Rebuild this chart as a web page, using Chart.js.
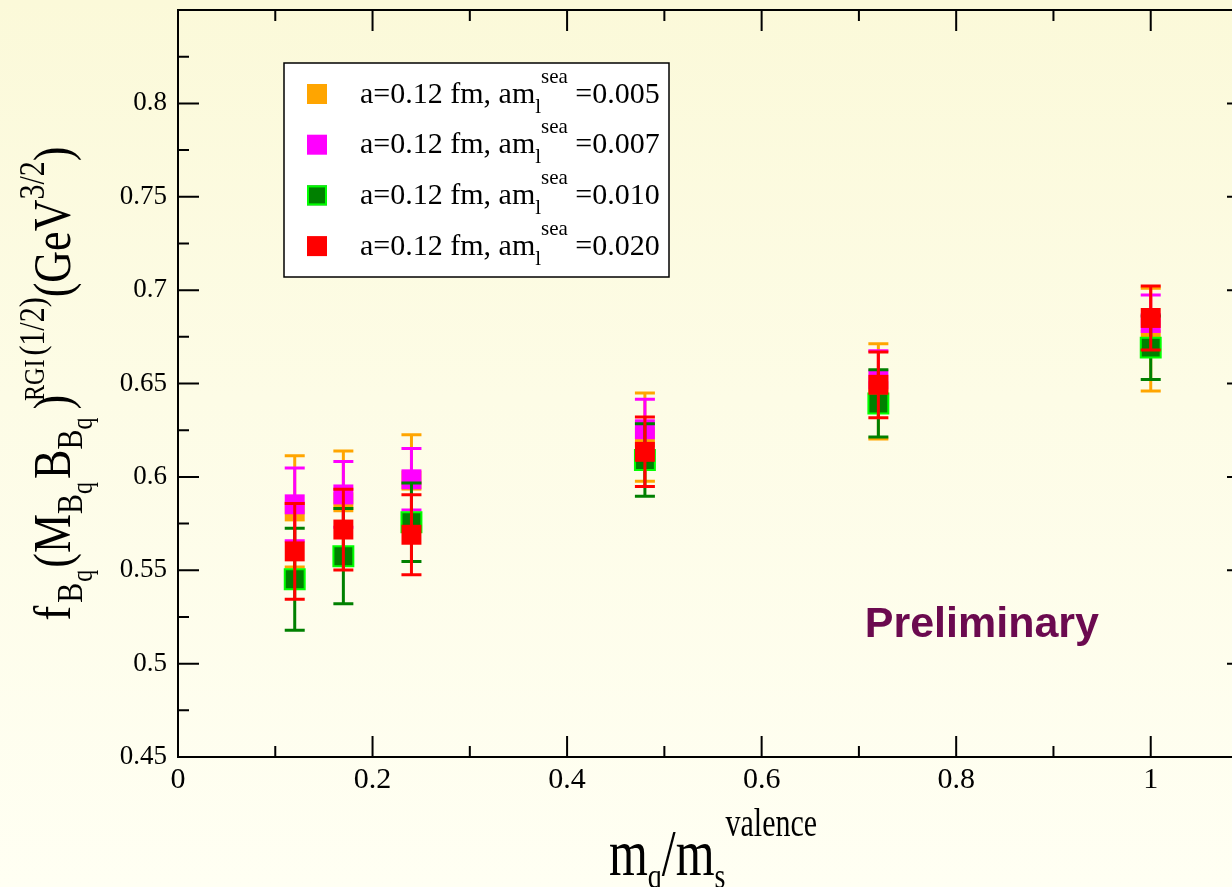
<!DOCTYPE html>
<html>
<head>
<meta charset="utf-8">
<script src="https://cdn.jsdelivr.net/npm/chart.js@4.4.1/dist/chart.umd.min.js"></script>
<style>
    html, body {
        margin: 0;
        padding: 0;
        width: 1232px;
        height: 887px;
        overflow: hidden;
        background: linear-gradient(to bottom, #fbf9d9 0%, #fdfce6 45%, #fffff3 100%);
    }
    #wrap { position: absolute; left: 0; top: 0; width: 1260px; height: 887px; }
</style>
</head>
<body>
<div id="wrap"><canvas id="chart" width="1260" height="887"></canvas></div>
<script>
// ==================== DONNÉES ====================
const mqOverMs = [0.12, 0.17, 0.24, 0.48, 0.72, 1.0];

const fb005 = [0.5815, 0.5864, 0.5980, 0.6213, 0.6458, 0.6735];
const err005 = [0.0298, 0.0275, 0.0246, 0.0236, 0.0255, 0.0275];
const fb007 = [0.5853, 0.5906, 0.5987, 0.6255, 0.6522, 0.6824];
const err007 = [0.0195, 0.0176, 0.0165, 0.0160, 0.0154, 0.0150];
const fb010 = [0.5452, 0.5575, 0.5757, 0.6090, 0.6393, 0.6692];
const err010 = [0.0273, 0.0255, 0.0210, 0.0194, 0.0180, 0.0170];
const fb020 = [0.5601, 0.5718, 0.5690, 0.6134, 0.6493, 0.6851];
const err020 = [0.0256, 0.0216, 0.0214, 0.0186, 0.0176, 0.0171];

const seaMasses = ["0.005", "0.007", "0.010", "0.020"];

const xMajorTicks = [0, 0.2, 0.4, 0.6, 0.8, 1.0];
const xTickLabels = ["0", "0.2", "0.4", "0.6", "0.8", "1"];
const xMinorTicks = [0.1, 0.3, 0.5, 0.7, 0.9];
const yMajorTicks = [0.45, 0.5, 0.55, 0.6, 0.65, 0.7, 0.75, 0.8];
const yTickLabels = ["0.45", "0.5", "0.55", "0.6", "0.65", "0.7", "0.75", "0.8"];
const yMinorTicks = [0.475, 0.525, 0.575, 0.625, 0.675, 0.725, 0.775, 0.825];

const fills = ["#ffa500", "#ff00ff", "#008000", "#ff0000"];
const edges = ["#ffa500", "#ff00ff", "#00ff00", "#ff0000"];
const barColors = ["#ffa500", "#ff00ff", "#008000", "#ff0000"];

const SERIF = "'Liberation Serif', 'Times New Roman', serif";

// ==================== TEXTE AVEC INDICES / EXPOSANTS ====================
function measureRich(ctx, segs) {
    let w = 0;
    segs.forEach(sg => {
        ctx.font = sg.s + "px " + SERIF;
        w += (sg.gap || 0) + ctx.measureText(sg.t).width;
    });
    return w;
}

function drawRich(ctx, segs, x, y) {
    let cx = x;
    ctx.textBaseline = "alphabetic";
    ctx.textAlign = "left";
    segs.forEach(sg => {
        ctx.font = sg.s + "px " + SERIF;
        cx += sg.gap || 0;
        ctx.fillText(sg.t, cx, y + (sg.d || 0));
        cx += ctx.measureText(sg.t).width;
    });
    return cx - x;
}

const yTitle = [
    { t: "f", s: 44, d: 0 },
    { t: "B", s: 30, d: 10, gap: 3 },
    { t: "q", s: 24, d: 18, gap: 1 },
    { t: "(M", s: 44, d: 0, gap: 2 },
    { t: "B", s: 30, d: 10 },
    { t: "q", s: 24, d: 18 },
    { t: "B", s: 44, d: 0, gap: 3 },
    { t: "B", s: 30, d: 10 },
    { t: "q", s: 24, d: 18 },
    { t: ")", s: 44, d: 0, gap: 8 },
    { t: "RGI", s: 24, d: -22, gap: -6 },
    { t: "(1/2)", s: 30, d: -22, gap: 4 },
    { t: "(GeV", s: 44, d: 0 },
    { t: "3/2", s: 30, d: -22 },
    { t: ")", s: 44, d: 0 }
];

const xTitle = [
    { t: "m", s: 50, d: 0 },
    { t: "q", s: 28, d: 10 },
    { t: "/m", s: 50, d: 0 },
    { t: "s", s: 28, d: 10 },
    { t: "valence", s: 30, d: -30 }
];

function isMajor(list, v) {
    return list.some(m => Math.abs(m - v) < 1e-6);
}

// ==================== PLUGINS ====================
const frameTicks = {
    id: "frameTicks",
    beforeDatasetsDraw(chart) {
        const ctx = chart.ctx;
        const a = chart.chartArea;
        const xs = chart.scales.x;
        const ys = chart.scales.y;
        ctx.save();
        ctx.strokeStyle = "#000";
        ctx.lineWidth = 2;
        ctx.strokeRect(a.left, a.top, a.right - a.left, a.bottom - a.top);
        ctx.beginPath();
        xs.ticks.forEach(t => {
            const px = xs.getPixelForValue(t.value);
            const len = isMajor(xMajorTicks, t.value) ? 21 : 11;
            ctx.moveTo(px, a.bottom);
            ctx.lineTo(px, a.bottom - len);
            ctx.moveTo(px, a.top);
            ctx.lineTo(px, a.top + len);
        });
        ys.ticks.forEach(t => {
            const py = ys.getPixelForValue(t.value);
            const len = isMajor(yMajorTicks, t.value) ? 21 : 11;
            ctx.moveTo(a.left, py);
            ctx.lineTo(a.left + len, py);
            ctx.moveTo(a.right, py);
            ctx.lineTo(a.right - len, py);
        });
        ctx.stroke();

        // Étiquettes des graduations
        ctx.fillStyle = "#000";
        ctx.font = "27px " + SERIF;
        ctx.textAlign = "right";
        ctx.textBaseline = "middle";
        yMajorTicks.forEach((v, i) => {
            ctx.fillText(yTickLabels[i], a.left - 11, ys.getPixelForValue(v));
        });
        ctx.font = "30px " + SERIF;
        ctx.textAlign = "center";
        ctx.textBaseline = "alphabetic";
        xMajorTicks.forEach((v, i) => {
            ctx.fillText(xTickLabels[i], xs.getPixelForValue(v), a.bottom + 31);
        });
        ctx.restore();
    }
};

const errorBars = {
    id: "errorBars",
    beforeDatasetDraw(chart, args) {
        const ds = chart.data.datasets[args.index];
        const xs = chart.scales.x;
        const ys = chart.scales.y;
        const ctx = chart.ctx;
        ctx.save();
        ctx.strokeStyle = ds.barColor;
        ctx.lineWidth = 3;
        ds.data.forEach(p => {
            const px = xs.getPixelForValue(p.x);
            const top = ys.getPixelForValue(p.y + p.err);
            const bot = ys.getPixelForValue(p.y - p.err);
            ctx.beginPath();
            ctx.moveTo(px, top);
            ctx.lineTo(px, bot);
            ctx.moveTo(px - 10, top);
            ctx.lineTo(px + 10, top);
            ctx.moveTo(px - 10, bot);
            ctx.lineTo(px + 10, bot);
            ctx.stroke();
        });
        ctx.restore();
    }
};

const decorations = {
    id: "decorations",
    afterDraw(chart) {
        const ctx = chart.ctx;
        const a = chart.chartArea;
        const xs = chart.scales.x;
        const ys = chart.scales.y;

        // Légende
        const left = a.left + 106, top = a.top + 53, w = 385, h = 214;
        ctx.save();
        ctx.fillStyle = "#fff";
        ctx.fillRect(left, top, w, h);
        ctx.strokeStyle = "#000";
        ctx.lineWidth = 1.5;
        ctx.strokeRect(left, top, w, h);
        seaMasses.forEach((m, i) => {
            const cy = top + 31 + i * 50.7;
            ctx.fillStyle = fills[i];
            ctx.fillRect(left + 23, cy - 10, 20, 20);
            if (edges[i] !== fills[i]) {
                ctx.strokeStyle = edges[i];
                ctx.lineWidth = 2;
                ctx.strokeRect(left + 24, cy - 9, 18, 18);
            }
            ctx.fillStyle = "#000";
            drawRich(ctx, [
                { t: "a=0.12 fm, am", s: 30, d: 0 },
                { t: "l", s: 21, d: 10 },
                { t: "sea", s: 21, d: -20 },
                { t: " =" + m, s: 30, d: 0 }
            ], left + 76, cy + 8.5);
        });
        ctx.restore();

        // Titre de l'axe Y
        ctx.save();
        ctx.fillStyle = "#000";
        ctx.translate(70, (a.top + a.bottom) / 2);
        ctx.rotate(-Math.PI / 2);
        ctx.scale(1, 1.2);
        const wy = measureRich(ctx, yTitle);
        drawRich(ctx, yTitle, -wy / 2, 0);
        ctx.restore();

        // Titre de l'axe X
        ctx.save();
        ctx.fillStyle = "#000";
        const wx = measureRich(ctx, xTitle);
        ctx.translate((a.left + a.right) / 2 - wx / 2, a.bottom + 118);
        ctx.scale(1, 1.3);
        drawRich(ctx, xTitle, 0, 0);
        ctx.restore();

        // Preliminary
        ctx.save();
        ctx.fillStyle = "#6b0a4f";
        ctx.font = "bold 43px 'Liberation Sans', Arial, sans-serif";
        ctx.textBaseline = "alphabetic";
        ctx.fillText("Preliminary", xs.getPixelForValue(0.706), ys.getPixelForValue(0.514));
        ctx.restore();
    }
};

// ==================== GRAPHIQUE ====================
function buildSet(vals, errs, i) {
    return {
        label: "a=0.12 fm, am_l^sea=" + seaMasses[i],
        data: mqOverMs.map((x, k) => ({ x: x, y: vals[k], err: errs[k] })),
        pointStyle: "rect",
        pointRadius: 14.1,
        pointHoverRadius: 14.1,
        backgroundColor: fills[i],
        borderColor: edges[i],
        borderWidth: edges[i] !== fills[i] ? 2 : 0,
        showLine: false,
        barColor: barColors[i],
        order: 3 - i
    };
}

const ctx = document.getElementById("chart").getContext("2d");
new Chart(ctx, {
    type: "scatter",
    data: {
        datasets: [
            buildSet(fb005, err005, 0),
            buildSet(fb007, err007, 1),
            buildSet(fb010, err010, 2),
            buildSet(fb020, err020, 3)
        ]
    },
    options: {
        responsive: false,
        animation: false,
        devicePixelRatio: 1,
        layout: { autoPadding: false, padding: { left: 0, top: 10, right: 12, bottom: 0 } },
        plugins: {
            legend: { display: false },
            tooltip: { enabled: false }
        },
        scales: {
            x: {
                type: "linear",
                min: 0,
                max: 1.1,
                border: { display: false },
                grid: { display: false, drawTicks: false },
                ticks: { display: false },
                afterBuildTicks(s) {
                    s.ticks = xMajorTicks.concat(xMinorTicks).sort((p, q) => p - q).map(v => ({ value: v }));
                },
                afterFit(s) {
                    s.height = 130;
                }
            },
            y: {
                type: "linear",
                min: 0.45,
                max: 0.85,
                border: { display: false },
                grid: { display: false, drawTicks: false },
                ticks: { display: false },
                afterBuildTicks(s) {
                    s.ticks = yMajorTicks.concat(yMinorTicks).sort((p, q) => p - q).map(v => ({ value: v }));
                },
                afterFit(s) {
                    s.width = 178;
                }
            }
        }
    },
    plugins: [frameTicks, errorBars, decorations]
});
</script>
</body>
</html>
